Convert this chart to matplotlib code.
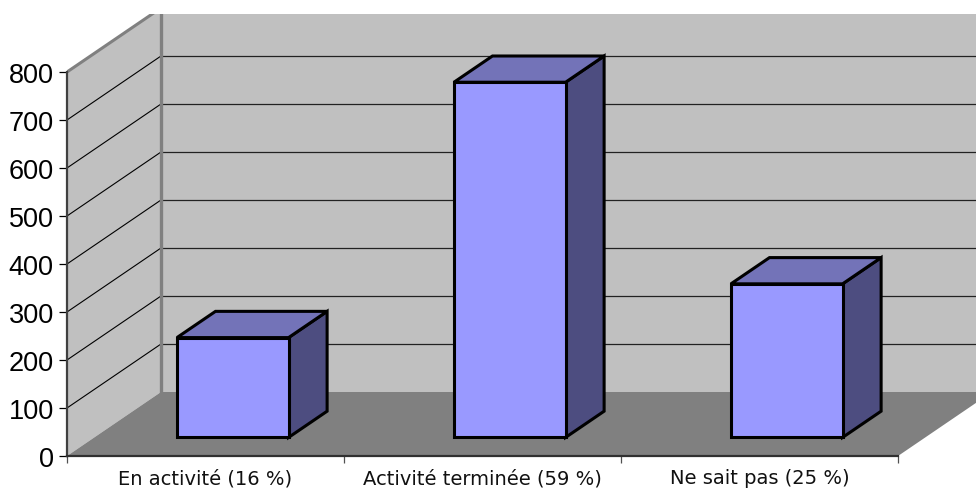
import matplotlib
matplotlib.use("Agg")
import matplotlib.pyplot as plt
from matplotlib.patches import Polygon

categories = ["En activité (16 %)", "Activité terminée (59 %)", "Ne sait pas (25 %)"]
values = [208, 740, 320]
y_ticks = [0, 100, 200, 300, 400, 500, 600, 700, 800]
grid_values = [100, 200, 300, 400, 500, 600, 700]

W, H = 976, 489
DEPTH_X = 94 / 277      # category units for full depth
DEPTH_Y = 64 / 48 * 100 # value units for full depth
BAR_W = 0.403
Z0, Z1 = 0.29, 0.70
ZERO_PX = 457


def proj(x, y, z):
    return (x + z * DEPTH_X, y + z * DEPTH_Y)


plt.rcParams["font.family"] = ["Liberation Sans", "DejaVu Sans"]
fig = plt.figure(figsize=(W / 100, H / 100), dpi=100, facecolor="white")
ax = fig.add_axes([67 / W, (H - ZERO_PX) / H, (W - 67) / W, (ZERO_PX - 15) / H])
ax.set_xlim(0, (W - 67) / 277)
ax.set_ylim(0, (ZERO_PX - 15) / 48 * 100)
ax.patch.set_visible(False)

n = len(categories)
top = 1000
xmax = 4

# walls and floor
ax.add_patch(Polygon([proj(0, 0, 1), proj(xmax, 0, 1), proj(xmax, top, 1), proj(0, top, 1)],
                     fc="#c0c0c0", ec="none", zorder=1))
ax.add_patch(Polygon([proj(0, 0, 0), proj(0, 0, 1), proj(0, 800, 1), proj(0, 800, 0)],
                     fc="#c0c0c0", ec="none", zorder=1))
ax.add_patch(Polygon([proj(0, 0, 0), proj(n, 0, 0), proj(n, 0, 1), proj(0, 0, 1)],
                     fc="#808080", ec="none", zorder=1.5))

# gridlines
for v in grid_values:
    a, b, c = proj(0, v, 0), proj(0, v, 1), proj(xmax, v, 1)
    ax.plot([a[0], b[0]], [a[1], b[1]], color="black", lw=0.8, zorder=2)
    ax.plot([b[0], c[0]], [b[1], c[1]], color="#222222", lw=0.9, zorder=2)

# wall edges
a, b = proj(0, 0, 1), proj(0, 800, 1)
ax.plot([a[0], b[0]], [a[1], b[1]], color="#808080", lw=2.4, zorder=3)
a, b = proj(0, 800, 0), proj(0, 800, 1)
ax.plot([a[0], b[0]], [a[1], b[1]], color="#808080", lw=2.2, zorder=3)

# bars
for i, v in enumerate(values):
    l = i + 0.5 - BAR_W / 2
    r = i + 0.5 + BAR_W / 2
    style = dict(ec="black", lw=2.2, joinstyle="miter", zorder=4)
    ax.add_patch(Polygon([proj(r, 0, Z0), proj(r, 0, Z1), proj(r, v, Z1), proj(r, v, Z0)],
                         fc="#4d4d80", **style))
    ax.add_patch(Polygon([proj(l, v, Z0), proj(r, v, Z0), proj(r, v, Z1), proj(l, v, Z1)],
                         fc="#7373b8", **style))
    ax.add_patch(Polygon([proj(l, 0, Z0), proj(r, 0, Z0), proj(r, v, Z0), proj(l, v, Z0)],
                         fc="#9999ff", **style))

# axes
for s in ["top", "right"]:
    ax.spines[s].set_visible(False)
ax.spines["left"].set_bounds(0, 800)
ax.spines["left"].set_color("#404040")
ax.spines["left"].set_linewidth(1.6)
ax.spines["bottom"].set_bounds(0, n)
ax.spines["bottom"].set_color("#303030")
ax.spines["bottom"].set_linewidth(1.6)
for s in ax.spines.values():
    s.set_zorder(5)
ax.set_yticks(y_ticks)
ax.tick_params(axis="y", length=6, width=0.9, color="black", pad=3.5, labelsize=19.5, labelcolor="black")
ax.set_xticks(range(n + 1))
ax.set_xticklabels([])
ax.tick_params(axis="x", which="major", length=5, width=0.9, color="#505050")
ax.set_xticks([i + 0.5 for i in range(n)], minor=True)
ax.set_xticklabels(categories, minor=True, family="DejaVu Sans")
ax.tick_params(axis="x", which="minor", length=0, pad=9, labelsize=14, labelcolor="#111111")

fig.savefig("out.png", dpi=100, facecolor="white")
